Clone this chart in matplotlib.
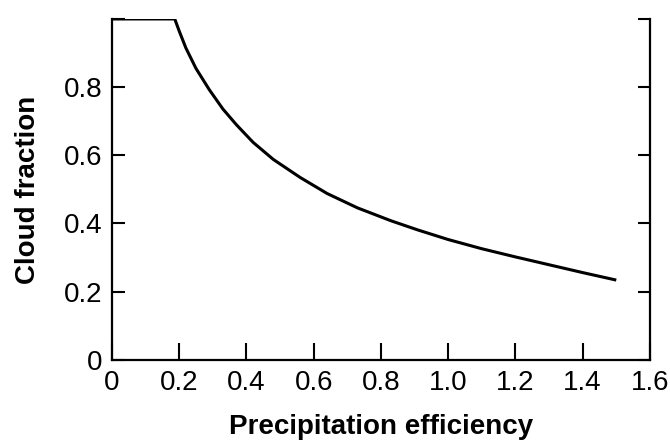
import matplotlib.pyplot as plt

# values
efficiency = [0, 0.187, 0.20, 0.22, 0.25, 0.29, 0.33, 0.37, 0.42, 0.48,
              0.56, 0.64, 0.73, 0.83, 0.91, 1.00, 1.10, 1.20, 1.30, 1.40, 1.50]
cloud_fraction = [1.0, 1.0, 0.965, 0.915, 0.855, 0.792, 0.736, 0.690, 0.638, 0.588,
                  0.535, 0.488, 0.446, 0.408, 0.381, 0.353, 0.326, 0.302, 0.279, 0.256, 0.234]

x_ticks = [0, 0.2, 0.4, 0.6, 0.8, 1.0, 1.2, 1.4, 1.6]
x_labels = ['0', '0.2', '0.4', '0.6', '0.8', '1.0', '1.2', '1.4', '1.6']
y_ticks = [0, 0.2, 0.4, 0.6, 0.8, 1.0]
y_labels = ['0', '0.2', '0.4', '0.6', '0.8', '']

plt.rcParams['font.family'] = ['Liberation Sans', 'DejaVu Sans']

fig = plt.figure(figsize=(6.7, 4.41), dpi=100)
ax = fig.add_axes([0.167, 0.184, 0.803, 0.773])

ax.plot(efficiency, cloud_fraction, color='black', linewidth=2.2,
        solid_joinstyle='round', solid_capstyle='butt')

ax.set_xlim(0, 1.6)
ax.set_ylim(0, 1.0)
ax.spines['top'].set_visible(False)
for side in ['left', 'right', 'bottom']:
    ax.spines[side].set_linewidth(1.6)

ax.set_xticks(x_ticks)
ax.set_xticklabels(x_labels)
ax.set_yticks(y_ticks)
ax.set_yticklabels(y_labels)
ax.tick_params(axis='x', direction='in', length=12, width=1.5, labelsize=20, pad=7)
ax.tick_params(axis='y', direction='in', length=9, width=1.5, labelsize=20, pad=7,
               right=True)

ax.set_xlabel('Precipitation efficiency', fontsize=20, fontweight='bold', labelpad=13)
ax.set_ylabel('Cloud fraction', fontsize=20, fontweight='bold', labelpad=16)

fig.savefig('out.png', dpi=100)
